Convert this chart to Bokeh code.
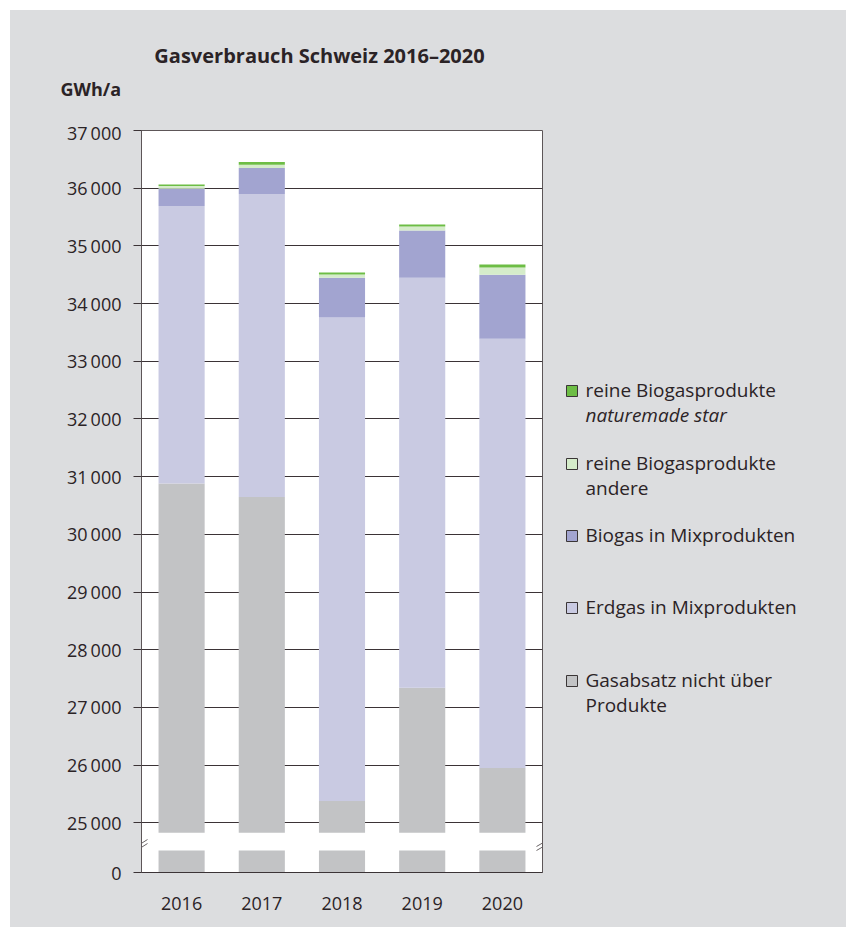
from bokeh.plotting import figure
from bokeh.layouts import column, row
from bokeh.models import FactorRange, Range1d, FixedTicker, Arrow, ColumnDataSource
from bokeh.core.properties import value
from bokeh.embed import file_html
from bokeh.resources import INLINE

# ---------------- data (GWh/a) ----------------
years = ["2016", "2017", "2018", "2019", "2020"]
gasabsatz_nicht_produkte = [30880, 30650, 25380, 27340, 25950]
erdgas_mix = [4810, 5250, 8380, 7110, 7440]
biogas_mix = [300, 450, 690, 815, 1110]
reine_bio_andere = [50, 55, 55, 70, 125]
reine_bio_naturemade = [22, 50, 32, 34, 51]

y_tick_values = [0, 25000, 26000, 27000, 28000, 29000, 30000, 31000,
                 32000, 33000, 34000, 35000, 36000, 37000]
y_tick_labels = ["0", "25\u2009000", "26\u2009000", "27\u2009000", "28\u2009000",
                 "29\u2009000", "30\u2009000", "31\u2009000", "32\u2009000",
                 "33\u2009000", "34\u2009000", "35\u2009000", "36\u2009000",
                 "37\u2009000"]

title_text = "Gasverbrauch Schweiz 2016\u20132020"
unit_text = "GWh/a"

legend_lines = [
    ["reine Biogasprodukte", "naturemade star"],
    ["reine Biogasprodukte", "andere"],
    ["Biogas in Mixprodukten"],
    ["Erdgas in Mixprodukten"],
    ["Gasabsatz nicht \u00fcber", "Produkte"],
]

# ---------------- styling ----------------
BG = "#dcdddf"
TXT = "#2b2326"
LINE = "#3b3336"
FONT = "Open Sans"
C_GRAY = "#c2c3c5"
C_ERD = "#c9cae2"
C_BIO = "#a2a4d0"
C_AND = "#d5ecca"
C_NAT = "#6dbd45"
legend_colors = [C_NAT, C_AND, C_BIO, C_ERD, C_GRAY]
legend_styles = [["normal", "italic"], ["normal", "normal"], ["normal"], ["normal"],
                 ["normal", "normal"]]
legend_baselines = [397, 470, 542, 614, 687]
TEXT_SHIFT = -8

# broken axis: plot coordinate for the "0" tick and the stub
ZERO_POS = 24140
STUB_TOP = 24523
UPPER_BASE = 24830

# page geometry
X0, Y0, X1, Y1 = 10, 10, 846, 927
HEAD_H = 110
SPLIT_X = 560


def to_plot(v):
    return ZERO_POS if v == 0 else v


def blank_fig(w, h, xr, yr):
    f = figure(width=w, height=h, x_range=Range1d(*xr), y_range=Range1d(*yr),
               output_backend="svg", toolbar_location=None, x_axis_type=None,
               y_axis_type=None, min_border=0, frame_align=False)
    f.background_fill_color = BG
    f.border_fill_color = BG
    f.outline_line_color = None
    f.xgrid.visible = False
    f.ygrid.visible = False
    return f


# ---------------- header (title + unit) ----------------
h = blank_fig(X1 - X0, HEAD_H, (X0, X1), (Y0 + HEAD_H, Y0))
h.text(x=[319], y=[62 - 7], text=[title_text], text_font=value(FONT), text_font_style="bold",
       text_font_size="20px", text_color=TXT, text_align="center", text_baseline="alphabetic")
h.text(x=[60], y=[96 + TEXT_SHIFT], text=[unit_text], text_font=value(FONT),
       text_font_style="bold", text_font_size="18px", text_color=TXT, text_align="left",
       text_baseline="alphabetic")

# ---------------- main chart ----------------
body_h = Y1 - Y0 - HEAD_H
p = figure(width=SPLIT_X - X0, height=body_h, x_range=FactorRange(*years),
           y_range=Range1d(ZERO_POS, 37000), output_backend="svg",
           toolbar_location=None, min_border_left=131, min_border_right=18,
           min_border_top=10, min_border_bottom=55, frame_align=False)
p.background_fill_color = "white"
p.border_fill_color = BG
p.outline_line_color = "#5d5658"
p.outline_line_width = 1

n = len(years)
p.vbar(x=years, bottom=[UPPER_BASE] * n, top=gasabsatz_nicht_produkte, width=0.575,
       fill_color=C_GRAY, line_color=None)
p.vbar(x=years, bottom=[ZERO_POS] * n, top=[STUB_TOP] * n, width=0.575,
       fill_color=C_GRAY, line_color=None)

cum = list(gasabsatz_nicht_produkte)
for series, col in [(erdgas_mix, C_ERD), (biogas_mix, C_BIO),
                    (reine_bio_andere, C_AND), (reine_bio_naturemade, C_NAT)]:
    new = [c + s for c, s in zip(cum, series)]
    p.vbar(x=years, bottom=cum, top=new, width=0.575, fill_color=col, line_color=None)
    cum = new

plot_ticks = [to_plot(v) for v in y_tick_values]
p.yaxis.ticker = FixedTicker(ticks=plot_ticks)
p.yaxis.major_label_overrides = {t: l for t, l in zip(plot_ticks, y_tick_labels)}
p.yaxis.major_tick_out = 8
p.yaxis.major_tick_in = 0
p.yaxis.minor_tick_line_color = None
p.yaxis.axis_line_color = "#5d5658"
p.yaxis.major_tick_line_color = LINE
p.yaxis.major_label_standoff = 12
p.yaxis.major_label_text_font = FONT
p.yaxis.major_label_text_font_size = "18px"
p.yaxis.major_label_text_color = TXT

p.xaxis.major_tick_out = 0
p.xaxis.major_tick_in = 0
p.xaxis.axis_line_color = LINE
p.xaxis.major_label_standoff = 24
p.xaxis.major_label_text_font = FONT
p.xaxis.major_label_text_font_size = "18px"
p.xaxis.major_label_text_color = TXT

p.xgrid.grid_line_color = None
p.ygrid.ticker = FixedTicker(ticks=y_tick_values[1:])
p.ygrid.grid_line_color = LINE
p.ygrid.grid_line_width = 1

# break marks (frame-relative screen units)
FL, FB = 141, 872
for xa, xb in [(136, 147), (536, 548)]:
    for ya, yb in [(846, 839), (850, 843)]:
        p.add_layout(Arrow(end=None, x_start=xa - FL, y_start=FB - ya, x_end=xb - FL,
                           y_end=FB - yb, start_units="screen", end_units="screen",
                           line_color="#6a6466", line_width=1))

# ---------------- legend ----------------
q = blank_fig(X1 - SPLIT_X, body_h, (SPLIT_X, X1), (Y1, Y0 + HEAD_H))
q.quad(left=[566] * 5, right=[577] * 5, top=[b - 12 for b in legend_baselines],
       bottom=[b - 1 for b in legend_baselines], fill_color=legend_colors,
       line_color="#3a3536", line_width=1)
tx, ty, tt, ts = [], [], [], []
for lines, styles, base in zip(legend_lines, legend_styles, legend_baselines):
    for i, (ln, st) in enumerate(zip(lines, styles)):
        tx.append(585)
        ty.append(base + 25 * i + TEXT_SHIFT)
        tt.append(ln)
        ts.append(st)
src = ColumnDataSource(dict(x=tx, y=ty, text=tt, style=ts))
q.text(x="x", y="y", text="text", source=src, text_font=value(FONT),
       text_font_style="style", text_font_size="19px", text_color=TXT,
       text_align="left", text_baseline="alphabetic")

layout = column(h, row(p, q, spacing=0, styles={"background-color": BG}), spacing=0,
                margin=(Y0, 856 - X1, 937 - Y1, X0), styles={"background-color": BG})
open("out.html", "w").write(file_html(layout, INLINE))
